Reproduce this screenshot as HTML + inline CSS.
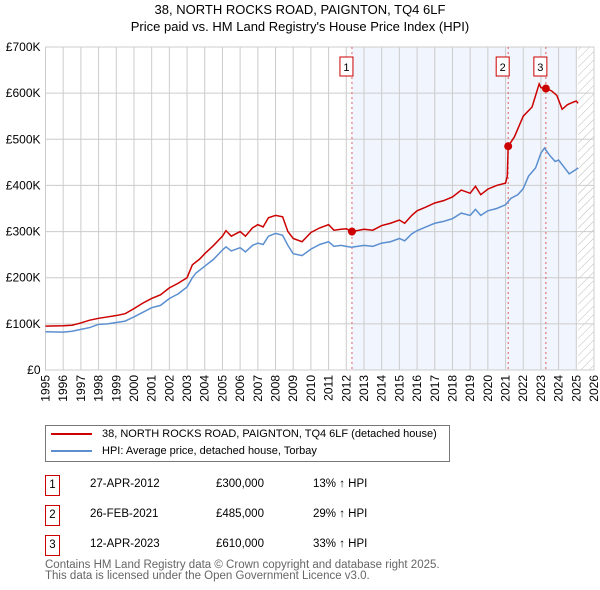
<!DOCTYPE html>
<html><head><meta charset="utf-8"><style>
body{margin:0;background:#fff;font-family:"Liberation Sans","DejaVu Sans",sans-serif;}
#wrap{position:relative;width:600px;height:590px;overflow:hidden}
.t{position:absolute;font-size:11.5px;color:#000;white-space:nowrap}
</style></head><body><div id="wrap">
<svg id="chart" width="600" height="420" style="position:absolute;left:0;top:0"></svg>
<div style="position:absolute;left:45px;top:425px;width:403px;height:35px;border:1px solid #777;background:#fff">
 <div style="position:absolute;left:5px;top:2px;font-size:11px;white-space:nowrap"><span style="display:inline-block;width:41px;height:2px;background:#cc0000;vertical-align:middle;margin-right:10px"></span>38, NORTH ROCKS ROAD, PAIGNTON, TQ4 6LF (detached house)</div>
 <div style="position:absolute;left:5px;top:19px;font-size:11px;white-space:nowrap"><span style="display:inline-block;width:41px;height:2px;background:#5b8fd0;vertical-align:middle;margin-right:10px"></span>HPI: Average price, detached house, Torbay</div>
</div>
<div id="rows"></div>
<div class="t" style="left:45px;top:560px;color:#666;font-size:11.5px;line-height:11px">Contains HM Land Registry data © Crown copyright and database right 2025.<br>This data is licensed under the Open Government Licence v3.0.</div>
</div>
<script>
const hpiYears=[1995,1996,1996.5,1997,1997.5,1998,1998.5,1999,1999.5,2000,2000.5,2001,2001.5,2002,2002.5,2003,2003.3,2003.5,2004,2004.5,2005,2005.2,2005.5,2006,2006.3,2006.7,2007,2007.3,2007.6,2008,2008.4,2008.7,2009,2009.5,2010,2010.5,2011,2011.3,2011.7,2012,2012.3,2013,2013.5,2014,2014.5,2015,2015.3,2015.7,2016,2016.5,2017,2017.5,2018,2018.5,2019,2019.3,2019.6,2020,2020.5,2021,2021.3,2021.7,2022,2022.3,2022.7,2023,2023.2,2023.5,2023.8,2024,2024.3,2024.6,2025,2025.1];
const hpiValues=[83,82,84,88,92,99,100,103,106,115,125,135,140,155,165,180,200,210,225,240,260,267,258,265,256,270,275,272,290,296,292,270,252,248,262,272,278,268,270,268,266,270,268,275,278,285,280,295,302,310,318,322,328,340,335,348,335,345,350,358,372,380,393,420,438,470,481,465,452,455,440,425,435,438];
const propYears=[1995,1996,1996.5,1997,1997.5,1998,1998.5,1999,1999.5,2000,2000.5,2001,2001.5,2002,2002.5,2003,2003.3,2003.7,2004,2004.5,2005,2005.2,2005.5,2006,2006.3,2006.7,2007,2007.3,2007.6,2008,2008.4,2008.7,2009,2009.5,2010,2010.5,2011,2011.3,2011.7,2012,2012.32,2013,2013.5,2014,2014.5,2015,2015.3,2015.7,2016,2016.5,2017,2017.5,2018,2018.5,2019,2019.3,2019.6,2020,2020.5,2021,2021.1,2021.15,2021.5,2022,2022.5,2022.9,2023,2023.28,2023.6,2023.9,2024.2,2024.5,2024.8,2025,2025.1];
const propValues=[95,96,97,102,108,112,115,118,122,133,145,155,163,178,188,200,228,240,252,270,290,302,290,300,290,308,315,310,330,335,332,300,285,278,298,308,315,303,305,306,300,305,303,313,318,325,318,335,345,353,362,367,375,390,383,398,380,392,400,405,420,485,505,550,570,620,612,610,605,595,565,575,580,583,578];
const saleLabels=["1","2","3"];
const saleYears=[2012.32,2021.15,2023.28];
const saleValues=[300,485,610];
const saleDates=["27-APR-2012","26-FEB-2021","12-APR-2023"];
const salePrices=["£300,000","£485,000","£610,000"];
const saleHpi=["13% ↑ HPI","29% ↑ HPI","33% ↑ HPI"];
const yTicks=[0,100,200,300,400,500,600,700];
const yTickLabels=["£0","£100K","£200K","£300K","£400K","£500K","£600K","£700K"];
const xTicks=[1995,1996,1997,1998,1999,2000,2001,2002,2003,2004,2005,2006,2007,2008,2009,2010,2011,2012,2013,2014,2015,2016,2017,2018,2019,2020,2021,2022,2023,2024,2025,2026];

const L=45.5,R=594,T=47,B=370;
const X=y=>L+(y-1995)*(R-L)/31;
const Y=v=>B-v*(B-T)/700;
const svg=document.getElementById('chart');
const NS='http://www.w3.org/2000/svg';
function mk(tag,attrs,parent){const e=document.createElementNS(NS,tag);for(const k in attrs)e.setAttribute(k,attrs[k]);(parent||svg).appendChild(e);return e;}
let t=mk('text',{x:300,y:14,'text-anchor':'middle','font-size':'13'});t.textContent='38, NORTH ROCKS ROAD, PAIGNTON, TQ4 6LF';

t=mk('text',{x:300,y:31,'text-anchor':'middle','font-size':'13'});t.textContent="Price paid vs. HM Land Registry's House Price Index (HPI)";

let defs=mk('defs',{});
let pat=mk('pattern',{id:'hatch',width:6,height:6,patternUnits:'userSpaceOnUse',patternTransform:'rotate(45)'},defs);
mk('line',{x1:0,y1:0,x2:0,y2:6,stroke:'#bbb','stroke-width':1},pat);
let sh=mk('rect',{x:X(saleYears[0]),y:T,width:X(2025)-X(saleYears[0]),height:B-T,fill:'#eef3fc',opacity:0.8});

let ht=mk('rect',{x:X(2025.1),y:T,width:R-X(2025.1),height:B-T,fill:'url(#hatch)'});

xTicks.forEach(yr=>{const g=mk('line',{x1:X(yr),x2:X(yr),y1:T,y2:B,stroke:'#ccc','stroke-width':1});

const tx=mk('text',{x:0,y:0,'font-size':'12','text-anchor':'end',transform:`translate(${X(yr)+4},${B+5}) rotate(-90)`});tx.textContent=yr;
});
yTicks.forEach((v,i)=>{const g=mk('line',{x1:L,x2:R,y1:Y(v),y2:Y(v),stroke:'#ccc','stroke-width':1});

const tx=mk('text',{x:L-5,y:Y(v)+4,'font-size':'12','text-anchor':'end'});tx.textContent=yTickLabels[i];
});
mk('rect',{x:L,y:T,width:R-L,height:B-T,fill:'none',stroke:'#ccc'});
saleYears.forEach((yr,i)=>{const l=mk('line',{x1:X(yr),x2:X(yr),y1:T,y2:B,stroke:'#e06060','stroke-dasharray':'2,3','stroke-width':1});

const bx=X(yr)-11;const r=mk('rect',{x:bx-1,y:57,width:13,height:19,fill:'#fff',stroke:'#cc0000'});

const tx=mk('text',{x:bx+5.5,y:71,'font-size':'11','text-anchor':'middle'});tx.textContent=saleLabels[i];
});
const hp=mk('polyline',{points:hpiYears.map((y,i)=>X(y)+','+Y(hpiValues[i])).join(' '),fill:'none',stroke:'#5b8fd0','stroke-width':1.5});

const pp=mk('polyline',{points:propYears.map((y,i)=>X(y)+','+Y(propValues[i])).join(' '),fill:'none',stroke:'#cc0000','stroke-width':1.5});

saleYears.forEach((yr,i)=>{const c=mk('circle',{cx:X(yr),cy:Y(saleValues[i]),r:4,fill:'#cc0000'});
});
const rows=document.getElementById('rows');
saleLabels.forEach((lb,i)=>{const top=475+i*30;
const d=document.createElement('div');d.className='t';d.style.cssText=`left:45px;top:${top}px;width:13px;height:19px;border:1px solid #cc0000;text-align:center;line-height:19px`;d.textContent=lb;
rows.appendChild(d);
[[90,saleDates[i],'sale-row-date'],[216,salePrices[i],'sale-row-price'],[313,saleHpi[i],'sale-row-hpi']].forEach(([x,s,n])=>{
const e=document.createElement('div');e.className='t';e.style.cssText=`left:${x}px;top:${top+3}px`;e.textContent=s;
rows.appendChild(e);});});
</script></body></html>
